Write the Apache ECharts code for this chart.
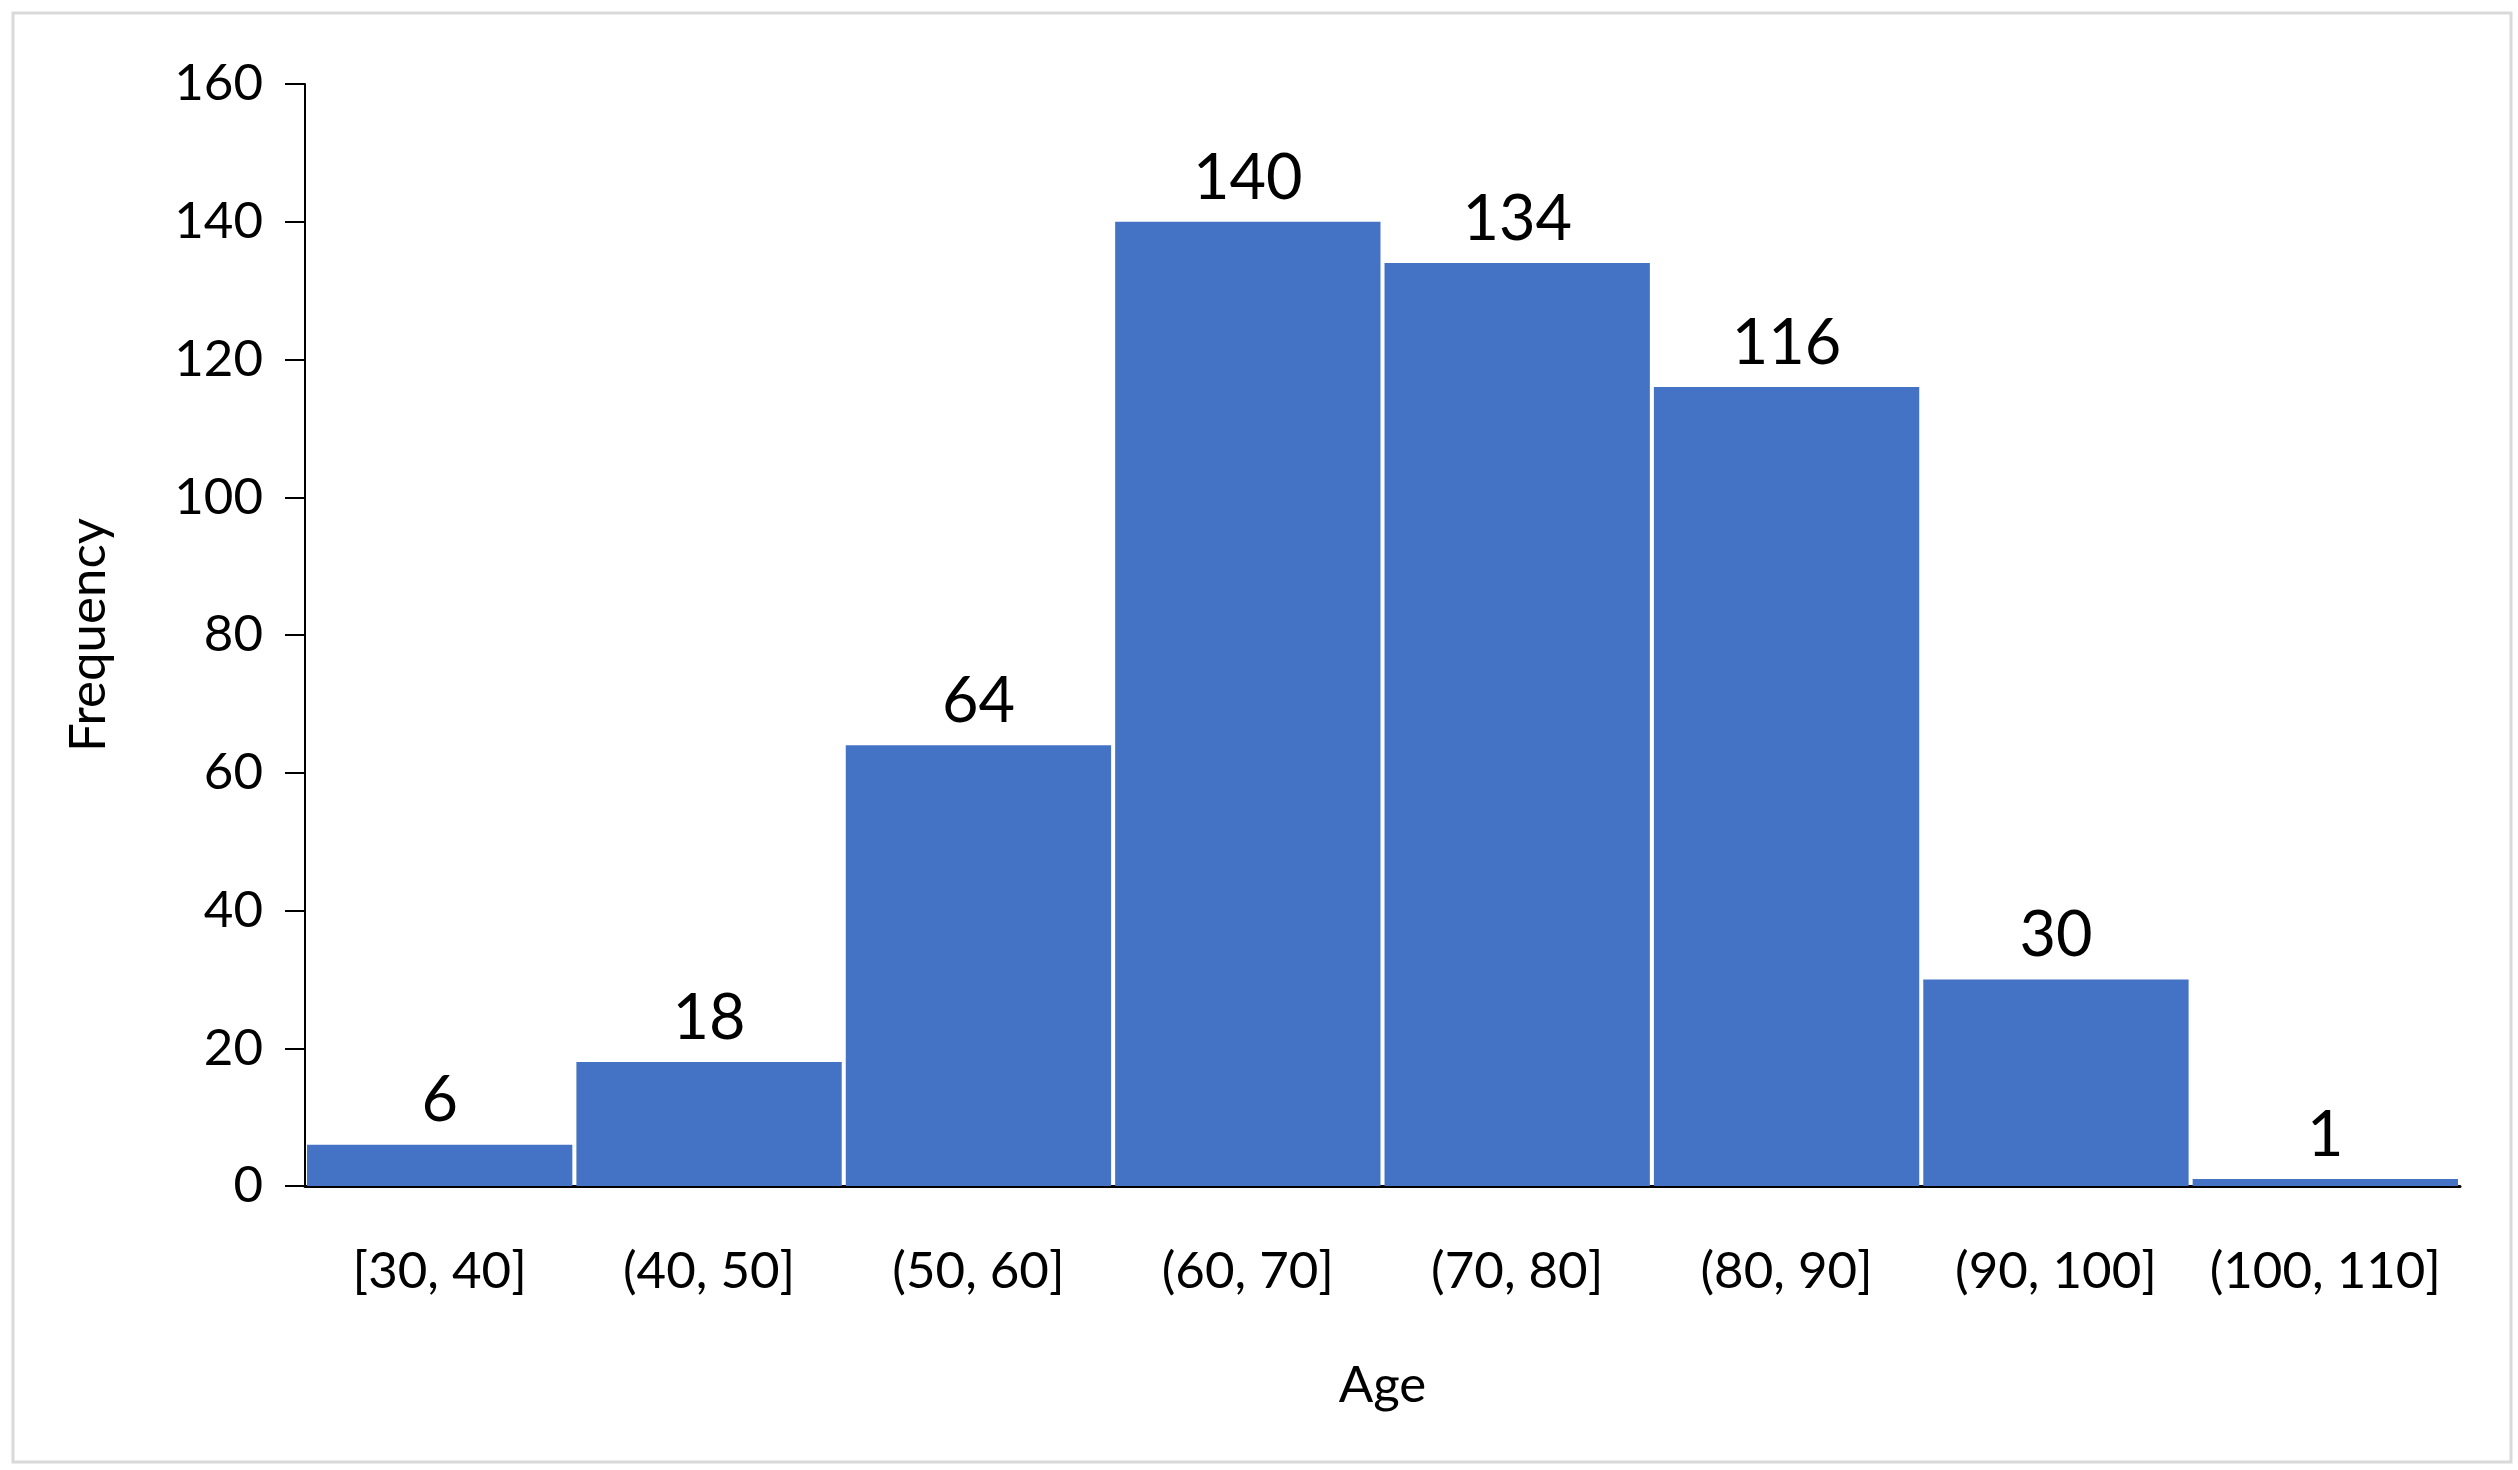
<!DOCTYPE html>
<html>
<head>
<meta charset="utf-8">
<script src="https://cdn.jsdelivr.net/npm/echarts@6/dist/echarts.min.js"></script>
<style>
html,body{margin:0;padding:0;background:#fff;}
#chart{width:2518px;height:1470px;}
</style>
</head>
<body>
<div id="chart"></div>
<script>
const categories = ['[30, 40]', '(40, 50]', '(50, 60]', '(60, 70]', '(70, 80]', '(80, 90]', '(90, 100]', '(100, 110]'];
const frequency = [6, 18, 64, 140, 134, 116, 30, 1];
const yTicks = { min: 0, max: 160, interval: 20 };
const xName = 'Age';
const yName = 'Frequency';

const FONT = 'Lato';
const chart = echarts.init(document.getElementById('chart'), null, { renderer: 'canvas' });
chart.setOption({
  backgroundColor: '#fff',
  animation: false,
  graphic: [{
    type: 'rect',
    shape: { x: 13, y: 13, width: 2498, height: 1449 },
    style: { fill: 'none', stroke: '#D9D9D9', lineWidth: 3 },
    silent: true
  }],
  grid: { left: 305, right: 58, top: 84, bottom: 284, containLabel: false },
  xAxis: {
    type: 'category',
    data: categories,
    name: xName,
    nameLocation: 'middle',
    nameGap: 174,
    nameTextStyle: { fontFamily: FONT, fontSize: 51, color: '#000' },
    axisLine: { show: true, lineStyle: { color: '#000', width: 3 } },
    axisTick: { show: false },
    axisLabel: { fontFamily: FONT, fontSize: 51, color: '#000', margin: 60, interval: 0 },
    splitLine: { show: false }
  },
  yAxis: {
    type: 'value',
    min: yTicks.min,
    max: yTicks.max,
    interval: yTicks.interval,
    name: yName,
    nameLocation: 'middle',
    nameGap: 191,
    nameRotate: 90,
    nameTextStyle: { fontFamily: FONT, fontSize: 51, color: '#000' },
    axisLine: { show: true, lineStyle: { color: '#000', width: 2 } },
    axisTick: { show: true, inside: false, length: 20, lineStyle: { color: '#000', width: 2 } },
    axisLabel: { fontFamily: FONT, fontSize: 51, color: '#000', margin: 42 },
    splitLine: { show: false }
  },
  series: [{
    type: 'bar',
    data: frequency,
    barCategoryGap: '1.5%',
    itemStyle: { color: '#4472C4' },
    label: {
      show: true,
      position: 'top',
      distance: 12,
      fontFamily: FONT,
      fontSize: 63,
      color: '#000'
    }
  }]
});
</script>
</body>
</html>
